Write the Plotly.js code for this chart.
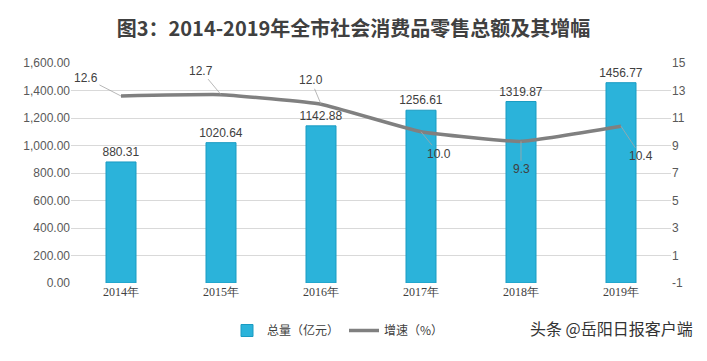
<!DOCTYPE html>
<html><head><meta charset="utf-8">
<script src="https://cdn.plot.ly/plotly-3.0.1.min.js"></script>
<style>body{margin:0;background:#fff}#c{width:707px;height:361px}</style>
</head><body><div id="c"></div>
<script>
const years = ['2014年','2015年','2016年','2017年','2018年','2019年'];
const totals = [880.31, 1020.64, 1142.88, 1256.61, 1319.87, 1456.77];
const growth = [12.6, 12.7, 12.0, 10.0, 9.3, 10.4];
const growthLabels = ['12.6','12.7','12.0','10.0','9.3','10.4'];
const rightTicks = [-1,1,3,5,7,9,11,13,15];
const labelOffsets = [[-35,-18],[-20,-24],[-10,-24],[18,22],[0,28],[20,30]];

const annotations = growth.map((g,i)=>({
  x: years[i], y: g, xref:'x', yref:'y2', text: growthLabels[i],
  showarrow:true, arrowhead:0, arrowwidth:0.8, arrowcolor:'#a6a6a6',
  ax: labelOffsets[i][0], ay: labelOffsets[i][1],
  font:{family:'Liberation Sans, Arial', size:12, color:'#404040'}
}));
annotations.push({
  xref:'paper', yref:'paper', x:1.04, y:-0.205, xanchor:'right', yanchor:'middle',
  text:'头条 @岳阳日报客户端', showarrow:false,
  font:{family:'Noto Sans CJK SC', size:16, color:'#333'}
});

const data = [
  {type:'bar', x:years, y:totals, name:'总量（亿元）',
   marker:{color:'#2bb3da', line:{color:'#1a9bc2', width:1}},
   width:0.3,
   text: totals.map(v=>v.toFixed(2)), textposition:'outside', constraintext:'none',
   textfont:{family:'Liberation Sans, Arial', size:12, color:'#404040'},
   cliponaxis:false},
  {type:'scatter', mode:'lines', x:years, y:growth, yaxis:'y2', name:'增速（%）',
   line:{color:'#808080', width:3.5, shape:'spline', smoothing:0.35}}
];

const layout = {
  width:707, height:361,
  margin:{l:71, r:36, t:63, b:78},
  paper_bgcolor:'#fff', plot_bgcolor:'#fff',
  title:{text:'图3：2014-2019年全市社会消费品零售总额及其增幅', x:0.5, xanchor:'center', y:0.94,
    font:{family:'Noto Sans CJK SC', size:20, color:'#404040', weight:'bold'}},
  xaxis:{showgrid:false, showline:false, ticks:'',
    tickfont:{family:'Liberation Serif, serif', size:12, color:'#404040'}},
  yaxis:{range:[0,1600], dtick:200, tickformat:',.2f', gridcolor:'#d9d9d9', zeroline:false,
    tickfont:{family:'Liberation Sans, Arial', size:12, color:'#595959'}, showline:false},
  yaxis2:{overlaying:'y', side:'right', range:[-1,15], tickmode:'array', tickvals:rightTicks,
    ticktext:rightTicks.map(String), showgrid:false, zeroline:false,
    tickfont:{family:'Liberation Sans, Arial', size:12, color:'#595959'}},
  showlegend:true,
  legend:{orientation:'h', x:0.26, y:-0.15, xanchor:'left', yanchor:'top',
    font:{family:'Noto Sans CJK SC', size:12, color:'#404040'}},
  annotations: annotations
};
Plotly.newPlot('c', data, layout, {displayModeBar:false, staticPlot:true});
</script></body></html>
